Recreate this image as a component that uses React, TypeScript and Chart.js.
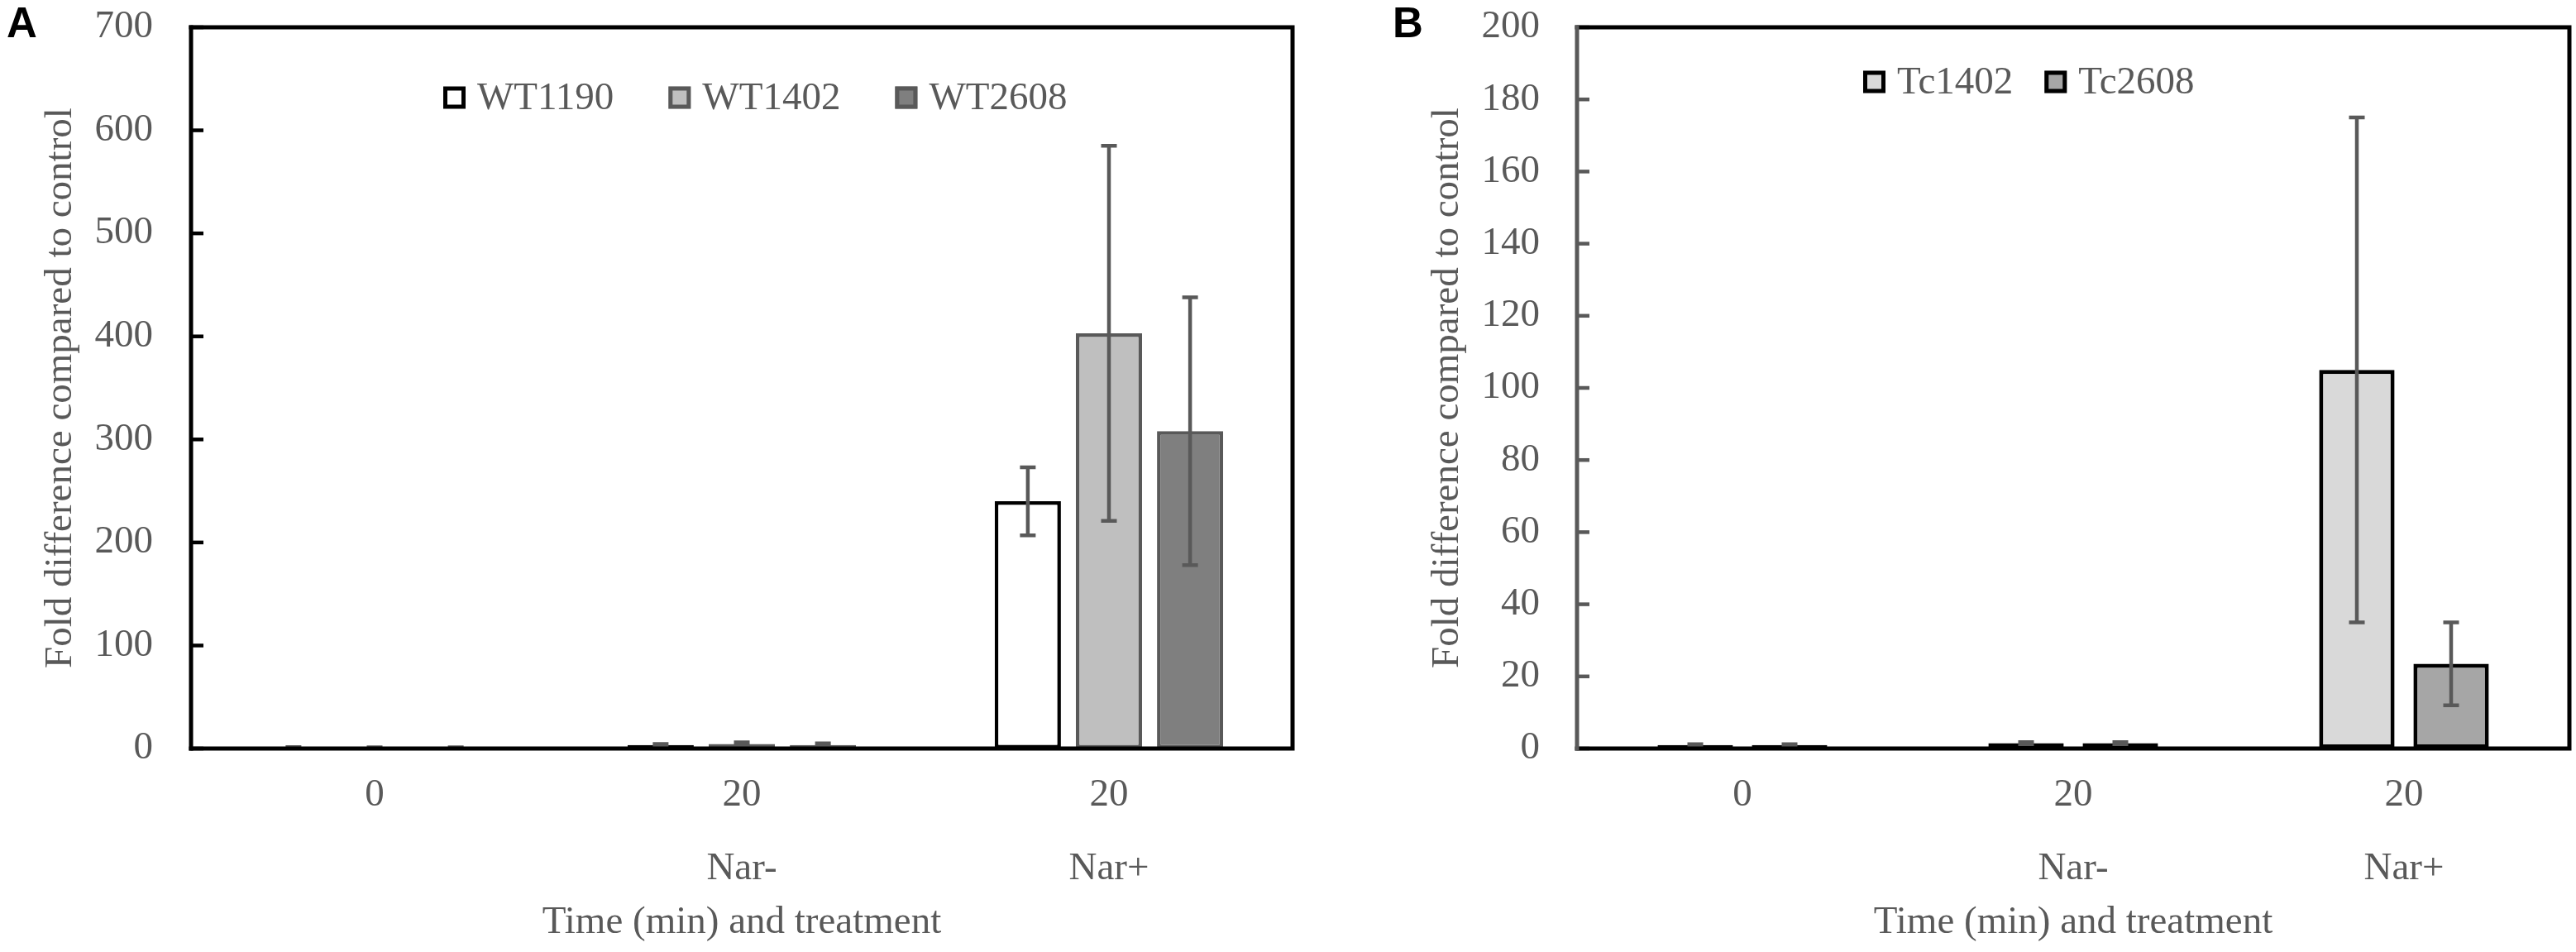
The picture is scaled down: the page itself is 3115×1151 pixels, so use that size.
import React, { useEffect, useRef } from "react";
import { Chart, registerables } from "chart.js";

Chart.register(...registerables);

// ---------- data ----------
const categories: string[][] = [["0", ""], ["20", "Nar-"], ["20", "Nar+"]];
const xTitle = "Time (min) and treatment";
const yTitle = "Fold difference compared to control";

const wtLabels = ["WT1190", "WT1402", "WT2608"];
const wt1190 = [1, 3.5, 240];
const wt1190Err = [0.5, 1, 33];
const wt1402 = [1, 4.5, 403];
const wt1402Err = [0.3, 1.5, 182];
const wt2608 = [1, 3.5, 308];
const wt2608Err = [0.3, 1.5, 130];
const yMaxA = 700;
const yStepA = 100;

const tcLabels = ["Tc1402", "Tc2608"];
const tc1402 = [1, 1.5, 105];
const tc1402Err = [0.2, 0.3, 70];
const tc2608 = [1, 1.5, 23.5];
const tc2608Err = [0.2, 0.3, 11.5];
const yMaxB = 200;
const yStepB = 20;

// ---------- style ----------
const SERIF = '"Liberation Serif", "Times New Roman", serif';
const TEXT = "#595959";
const FONT_SIZE = 47;
const H = 1151;

const errorBarPlugin = {
  id: "errorBars",
  afterDatasetsDraw(chart: any, _args: any, opts: any) {
    const ctx = chart.ctx;
    const y = chart.scales.y;
    ctx.save();
    ctx.strokeStyle = opts.color || TEXT;
    ctx.lineWidth = opts.width || 4.5;
    ctx.lineCap = "butt";
    chart.data.datasets.forEach((ds: any, di: number) => {
      const meta = chart.getDatasetMeta(di);
      if (!ds.errors) return;
      meta.data.forEach((el: any, i: number) => {
        const v = ds.data[i];
        const e = ds.errors[i];
        const x = el.x;
        const yt = y.getPixelForValue(v + e);
        const yb = y.getPixelForValue(Math.max(0, v - e));
        const c = opts.cap || 9.5;
        ctx.beginPath();
        ctx.moveTo(x, yt);
        ctx.lineTo(x, yb);
        ctx.moveTo(x - c, yt);
        ctx.lineTo(x + c, yt);
        ctx.moveTo(x - c, yb);
        ctx.lineTo(x + c, yb);
        ctx.stroke();
      });
    });
    ctx.restore();
  },
};

const framePlugin = {
  id: "frame",
  afterDraw(chart: any, _args: any, opts: any) {
    const ctx = chart.ctx;
    const { left, right, top, bottom } = chart.chartArea;
    const y = chart.scales.y;
    ctx.save();
    // inward ticks
    ctx.strokeStyle = opts.leftColor;
    ctx.lineWidth = 4.5;
    y.ticks.forEach((t: any) => {
      const py = y.getPixelForValue(t.value);
      ctx.beginPath();
      ctx.moveTo(left, py);
      ctx.lineTo(left + 15, py);
      ctx.stroke();
    });
    ctx.lineWidth = 5;
    ctx.lineCap = "square";
    ctx.strokeStyle = "#000000";
    ctx.beginPath();
    ctx.moveTo(left, top);
    ctx.lineTo(right, top);
    ctx.lineTo(right, bottom);
    ctx.lineTo(left, bottom);
    ctx.stroke();
    ctx.strokeStyle = opts.leftColor;
    ctx.beginPath();
    ctx.moveTo(left, bottom);
    ctx.lineTo(left, top);
    ctx.stroke();
    // panel letter
    ctx.fillStyle = "#000000";
    ctx.font = 'bold 51px "Liberation Sans", Arial, sans-serif';
    ctx.textBaseline = "alphabetic";
    ctx.textAlign = "left";
    ctx.fillText(opts.letter, opts.letterX, 45);
    ctx.restore();
  },
};

const legendPlugin = {
  id: "innerLegend",
  afterDraw(chart: any, _args: any, opts: any) {
    const ctx = chart.ctx;
    ctx.save();
    ctx.font = `${FONT_SIZE}px ${SERIF}`;
    ctx.textBaseline = "middle";
    ctx.textAlign = "left";
    let x = opts.x;
    const box = 27;
    chart.data.datasets.forEach((ds: any) => {
      const yTop = opts.y - box / 2;
      ctx.fillStyle = ds.backgroundColor;
      ctx.fillRect(x, yTop, box, box);
      ctx.strokeStyle = ds.borderColor;
      ctx.lineWidth = 5;
      ctx.strokeRect(x + 2.5, yTop + 2.5, box - 5, box - 5);
      ctx.fillStyle = TEXT;
      const tx = x + box + 14;
      ctx.fillText(ds.label, tx, opts.y + 2);
      x = tx + ctx.measureText(ds.label).width + opts.gap;
    });
    ctx.restore();
  },
};

interface PanelProps {
  left: number;
  width: number;
  datasets: any[];
  yMax: number;
  yStep: number;
  yWidth: number;
  rightPad: number;
  tickPad: number;
  titlePad: number;
  catPct: number;
  barPct: number;
  legendX: number;
  legendY: number;
  legendGap: number;
  leftColor: string;
  letter: string;
  letterX: number;
}

function Panel(p: PanelProps) {
  const ref = useRef<HTMLCanvasElement | null>(null);
  useEffect(() => {
    if (!ref.current) return;
    const font = { family: SERIF, size: FONT_SIZE };
    const chart = new Chart(ref.current, {
      type: "bar",
      data: { labels: categories as any, datasets: p.datasets },
      plugins: [errorBarPlugin, framePlugin, legendPlugin],
      options: {
        animation: false,
        responsive: false,
        layout: { padding: { top: 33, right: p.rightPad, left: 0, bottom: 0 } },
        datasets: { bar: { categoryPercentage: p.catPct, barPercentage: p.barPct } },
        plugins: {
          legend: { display: false },
          tooltip: { enabled: false },
          errorBars: { color: TEXT, width: 4.5, cap: 9.5 },
          frame: { leftColor: p.leftColor, letter: p.letter, letterX: p.letterX },
          innerLegend: { x: p.legendX, y: p.legendY, gap: p.legendGap },
        } as any,
        scales: {
          x: {
            grid: { display: false, drawTicks: false },
            border: { display: false },
            ticks: {
              padding: 12,
              color: TEXT,
              autoSkip: false,
              maxRotation: 0,
              font: { ...font, lineHeight: 1.9 },
            },
            title: {
              display: true,
              text: xTitle,
              color: TEXT,
              font: { ...font, lineHeight: 1.2 },
              padding: { top: 0, bottom: 7 },
            },
            afterFit: (s: any) => {
              s.height = 246;
              s.paddingLeft = 0;
              s.paddingRight = 0;
            },
          },
          y: {
            min: 0,
            max: p.yMax,
            grid: { display: false, drawTicks: false },
            border: { display: false },
            ticks: { stepSize: p.yStep, padding: p.tickPad, color: TEXT, font },
            title: {
              display: true,
              text: yTitle,
              color: TEXT,
              font: { ...font, lineHeight: 1.2 },
              padding: { top: p.titlePad, bottom: 0 },
            },
            afterFit: (s: any) => {
              s.width = p.yWidth;
              s.paddingTop = 0;
              s.paddingBottom = 0;
            },
          },
        },
      } as any,
    });
    return () => chart.destroy();
  }, []);
  return (
    <canvas
      ref={ref}
      width={p.width}
      height={H}
      style={{ position: "absolute", left: p.left, top: 0, width: p.width, height: H }}
    />
  );
}

export default function App() {
  const dsA = [
    { label: wtLabels[0], data: wt1190, errors: wt1190Err, backgroundColor: "#FFFFFF", borderColor: "#000000", borderWidth: 4.5, borderSkipped: false },
    { label: wtLabels[1], data: wt1402, errors: wt1402Err, backgroundColor: "#BFBFBF", borderColor: "#595959", borderWidth: 4.5, borderSkipped: false },
    { label: wtLabels[2], data: wt2608, errors: wt2608Err, backgroundColor: "#7F7F7F", borderColor: "#595959", borderWidth: 4.5, borderSkipped: false },
  ];
  const dsB = [
    { label: tcLabels[0], data: tc1402, errors: tc1402Err, backgroundColor: "#D9D9D9", borderColor: "#000000", borderWidth: 5, borderSkipped: false },
    { label: tcLabels[1], data: tc2608, errors: tc2608Err, backgroundColor: "#A6A6A6", borderColor: "#000000", borderWidth: 5, borderSkipped: false },
  ];
  return (
    <div style={{ position: "absolute", left: 0, top: 0, width: 3115, height: H, background: "#FFFFFF" }}>
      <Panel
        left={0}
        width={1600}
        datasets={dsA}
        yMax={yMaxA}
        yStep={yStepA}
        yWidth={231}
        rightPad={37}
        tickPad={46}
        titlePad={45}
        catPct={0.663}
        barPct={0.816}
        legendX={536}
        legendY={118}
        legendGap={66}
        leftColor="#000000"
        letter="A"
        letterX={8}
      />
      <Panel
        left={1600}
        width={1515}
        datasets={dsB}
        yMax={yMaxB}
        yStep={yStepB}
        yWidth={307}
        rightPad={8}
        tickPad={45}
        titlePad={122}
        catPct={0.57}
        barPct={0.8}
        legendX={653}
        legendY={99}
        legendGap={38}
        leftColor="#595959"
        letter="B"
        letterX={84}
      />
    </div>
  );
}
